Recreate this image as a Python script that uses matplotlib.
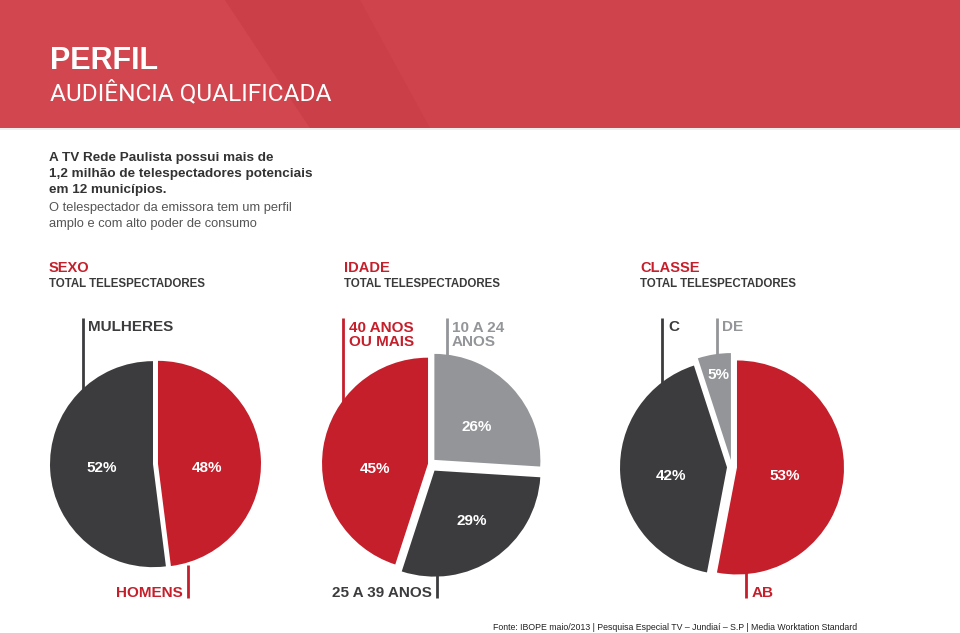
import matplotlib.pyplot as plt
from matplotlib.patches import Rectangle, Polygon

W, H = 960, 633

sexo_labels = ['HOMENS', 'MULHERES']
sexo_values = [48, 52]
idade_labels = ['10 A 24\nANOS', '25 A 39 ANOS', '40 ANOS\nOU MAIS']
idade_values = [26, 29, 45]
classe_labels = ['AB', 'C', 'DE']
classe_values = [53, 42, 5]

RED = '#c41f2b'
DARK = '#3c3c3e'
GRAY = '#939598'
TXT = '#3a3a3a'
FONT = ['Liberation Sans', 'DejaVu Sans']

plt.rcParams['font.family'] = FONT

fig = plt.figure(figsize=(9.6, 6.33), dpi=100)
ax = fig.add_axes([0, 0, 1, 1])


def Y(y):
    return H - y


def txt(x, y, s, **kw):
    kw.setdefault('va', 'center')
    kw.setdefault('ha', 'left')
    ax.text(x, Y(y), s, **kw)


def vline(x, y0, y1, c):
    ax.plot([x, x], [Y(y0), Y(y1)], color=c, lw=2, solid_capstyle='butt')


# header band
ax.add_patch(Rectangle((0, Y(128)), W, 128, color='#cf434c', lw=0))
ax.add_patch(Polygon([(0, Y(0)), (225, Y(0)), (310, Y(128)), (0, Y(128))],
                     closed=True, color='#d2474f', lw=0))
ax.add_patch(Polygon([(225, Y(0)), (360, Y(0)), (430, Y(128)), (310, Y(128))],
                     closed=True, color='#cb3f48', lw=0))
ax.add_patch(Rectangle((0, Y(130)), W, 2, color='#eeeeee', lw=0))
txt(50, 61, 'PERFIL', color='white', fontsize=22, fontweight='bold')
txt(50, 93, 'AUDIÊNCIA QUALIFICADA', color='white', fontsize=17.6,
    family=['Roboto', 'DejaVu Sans'], fontweight='normal')

# intro text
for i, line in enumerate(['A TV Rede Paulista possui mais de',
                          '1,2 milhão de telespectadores potenciais',
                          'em 12 municípios.']):
    txt(49, 158 + 16 * i, line, color='#333333', fontsize=9.7, fontweight='bold')
for i, line in enumerate(['O telespectador da emissora tem um perfil',
                          'amplo e com alto poder de consumo']):
    txt(49, 208 + 16 * i, line, color='#555555', fontsize=9.3)

# section headers
for x, title in [(49, 'SEXO'), (344, 'IDADE'), (640, 'CLASSE')]:
    txt(x, 268, title, color=RED, fontsize=10.5, fontweight='bold')
    txt(x, 284, 'TOTAL TELESPECTADORES', color=TXT, fontsize=8.3, fontweight='bold')

# pies
ax.pie(sexo_values, colors=[RED, DARK], startangle=90, counterclock=False,
       center=(155.5, Y(464)), radius=103, explode=[2.5, 2.5],
       wedgeprops=dict(linewidth=0))
ax.pie(idade_values, colors=[GRAY, DARK, RED], startangle=90, counterclock=False,
       center=(430, Y(464)), radius=106, explode=[6, 8, 2],
       wedgeprops=dict(linewidth=0))
ax.pie(classe_values, colors=[RED, DARK, GRAY], startangle=90, counterclock=False,
       center=(732, Y(467)), radius=107, explode=[5, 5, 7],
       wedgeprops=dict(linewidth=0))

pct = dict(color='white', fontsize=11, fontweight='bold', ha='center')
txt(207, 468, f'{sexo_values[0]}%', **pct)
txt(102, 468, f'{sexo_values[1]}%', **pct)
txt(477, 427, f'{idade_values[0]}%', **pct)
txt(472, 521, f'{idade_values[1]}%', **pct)
txt(375, 469, f'{idade_values[2]}%', **pct)
txt(785, 476, f'{classe_values[0]}%', **pct)
txt(671, 476, f'{classe_values[1]}%', **pct)
txt(718, 375, f'{classe_values[2]}%', **pct)

# category labels with leader lines
lab = dict(fontsize=11, fontweight='bold')
vline(83, 318, 390, DARK)
txt(88, 327, sexo_labels[1], color=DARK, **lab)
vline(188, 565, 598, RED)
txt(183, 593, sexo_labels[0], color=RED, ha='right', **lab)

vline(343, 318, 402, RED)
txt(349, 335, idade_labels[2], color=RED, linespacing=0.95, **lab)
vline(447, 318, 356, GRAY)
txt(452, 335, idade_labels[0], color=GRAY, linespacing=0.95, **lab)
vline(437, 575, 598, DARK)
txt(432, 593, idade_labels[1], color=DARK, ha='right', **lab)

vline(662, 318, 386, DARK)
txt(668, 327, classe_labels[1], color=DARK, **lab)
vline(717, 318, 356, GRAY)
txt(722, 327, classe_labels[2], color=GRAY, **lab)
vline(746, 572, 598, RED)
txt(752, 593, classe_labels[0], color=RED, **lab)

# source
txt(857, 627, 'Fonte: IBOPE maio/2013 | Pesquisa Especial TV – Jundiaí – S.P | '
    'Media Worktation Standard', color='#222222', fontsize=6.3, ha='right')

ax.set_xlim(0, W)
ax.set_ylim(0, H)
ax.set_aspect('auto')
ax.axis('off')

fig.savefig('out.png', dpi=100, facecolor='white')
